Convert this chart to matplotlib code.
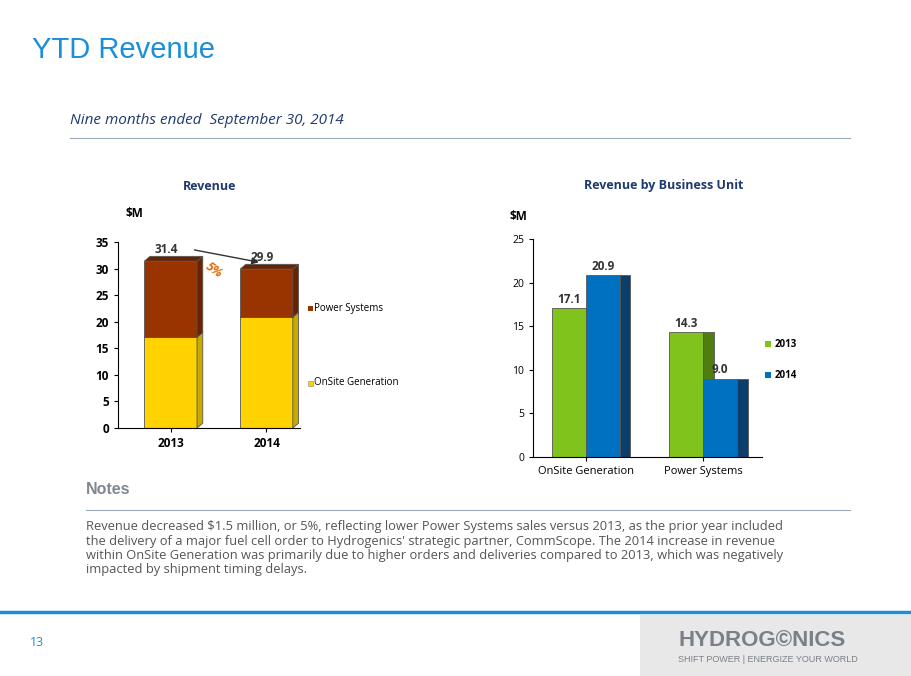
import matplotlib.pyplot as plt
from matplotlib.patches import Polygon, Rectangle
import numpy as np

years = ["2013", "2014"]
onsite = [17.1, 20.9]
power = [14.3, 9.0]
totals = [31.4, 29.9]
units = ["OnSite Generation", "Power Systems"]
bu_2013 = [17.1, 14.3]
bu_2014 = [20.9, 9.0]

W, H = 911, 676
fig = plt.figure(figsize=(W / 100, H / 100), dpi=100)
plt.rcParams['font.family'] = ['Open Sans', 'DejaVu Sans']


def px(x0, y0, x1, y1):
    return [x0 / W, 1 - y1 / H, (x1 - x0) / W, (y1 - y0) / H]


def bar3d(ax, x, bottom, h, width, face, side, dx, dy):
    ax.add_patch(Rectangle((x - width / 2, bottom), width, h, fc=face, ec="#555555", lw=0.6, clip_on=False))
    r = x + width / 2
    ax.add_patch(Polygon([(r, bottom), (r + dx, bottom + dy), (r + dx, bottom + h + dy), (r, bottom + h)],
                         closed=True, fc=side, ec="#555555", lw=0.6, clip_on=False))
    if dy:
        l = x - width / 2
        ax.add_patch(Polygon([(l, bottom + h), (l + dx, bottom + h + dy), (r + dx, bottom + h + dy), (r, bottom + h)],
                             closed=True, fc=side, ec="#555555", lw=0.6, clip_on=False))


# header
fig.text(32 / W, 1 - 50 / H, "YTD Revenue", fontsize=21, color="#1a8fd8", family="Liberation Sans", va="center")
fig.text(70 / W, 1 - 120 / H, "Nine months ended  September 30, 2014", fontsize=11, style="italic",
         color="#1f3a6e", va="center")
fig.add_artist(plt.Line2D([70 / W, 850 / W], [1 - 138 / H] * 2, color="#9aa8bb", lw=0.8))

# left chart
ax1 = fig.add_axes(px(118, 242, 300, 428))
xs = np.array([0.0, 1.0])
for i in range(2):
    bar3d(ax1, xs[i], 0, onsite[i], 0.55, "#ffd200", "#c9a800", 0.06, 0.9)
    bar3d(ax1, xs[i], onsite[i], power[i], 0.55, "#993300", "#6b2200", 0.06, 0.9)
    ax1.text(xs[i] - 0.05, totals[i] + 1.5, f"{totals[i]:.1f}", ha="center", fontsize=8.5, weight="bold",
             color="#333333")
ax1.annotate("", xy=(xs[1] - 0.05, totals[1] + 1.2), xytext=(xs[0] + 0.22, totals[0] + 2.2),
             arrowprops=dict(arrowstyle="-|>", color="#333333", lw=1))
ax1.text(0.45, 28.3, "5%", color="#e46c0a", fontsize=9, weight="bold", style="italic", rotation=-35, ha="center")
ax1.set_xlim(-0.55, 1.35)
ax1.set_ylim(0, 35)
ax1.set_yticks(range(0, 36, 5))
ax1.set_xticks(xs)
ax1.set_xticklabels(years)
for s in ["top", "right"]:
    ax1.spines[s].set_visible(False)
ax1.tick_params(labelsize=8.5, length=3)
for t in ax1.get_xticklabels() + ax1.get_yticklabels():
    t.set_fontweight("bold")
fig.text(125 / W, 1 - 214 / H, "$M", fontsize=8.5, weight="bold", va="center")
fig.text(210 / W, 1 - 186 / H, "Revenue", fontsize=9, weight="bold", color="#1f3a6e", ha="center", va="center")
fig.patches.append(Rectangle((308 / W, 1 - 311 / H), 5 / W, 5 / H, fc="#993300", transform=fig.transFigure))
fig.text(314 / W, 1 - 308 / H, "Power Systems", fontsize=7, va="center")
fig.patches.append(Rectangle((308 / W, 1 - 386 / H), 5 / W, 5 / H, fc="#ffd200", ec="#888888", lw=0.4,
                             transform=fig.transFigure))
fig.text(314 / W, 1 - 383 / H, "OnSite Generation", fontsize=7, va="center")

# right chart
ax2 = fig.add_axes(px(533, 239, 762, 457))
xg = np.array([0.0, 1.0])
bw = 0.29
for i in range(2):
    bar3d(ax2, xg[i] - bw / 2, 0, bu_2013[i], bw, "#7fc31c", "#4f7d10", 0.09, 0)
    bar3d(ax2, xg[i] + bw / 2, 0, bu_2014[i], bw, "#0070c0", "#0b3e6b", 0.09, 0)
    ax2.text(xg[i] - bw / 2, bu_2013[i] + 0.6, f"{bu_2013[i]:.1f}", ha="center", fontsize=8.5, weight="bold",
             color="#333333")
    ax2.text(xg[i] + bw / 2, bu_2014[i] + 0.6, f"{bu_2014[i]:.1f}", ha="center", fontsize=8.5, weight="bold",
             color="#333333")
ax2.set_xlim(-0.45, 1.5)
ax2.set_ylim(0, 25)
ax2.set_yticks(range(0, 26, 5))
ax2.set_xticks(xg)
ax2.set_xticklabels(units)
for s in ["top", "right"]:
    ax2.spines[s].set_visible(False)
ax2.tick_params(labelsize=7.5, length=3)
ax2.tick_params(axis="x", labelsize=8)
fig.text(510 / W, 1 - 217 / H, "$M", fontsize=8.5, weight="bold", va="center")
fig.text(664 / W, 1 - 186 / H, "Revenue by Business Unit", fontsize=9, weight="bold", color="#1f3a6e",
         ha="center", va="center")
fig.patches.append(Rectangle((765 / W, 1 - 347 / H), 6 / W, 6 / H, fc="#7fc31c", transform=fig.transFigure))
fig.text(775 / W, 1 - 344 / H, "2013", fontsize=7, weight="bold", va="center")
fig.patches.append(Rectangle((765 / W, 1 - 378 / H), 6 / W, 6 / H, fc="#0070c0", transform=fig.transFigure))
fig.text(775 / W, 1 - 375 / H, "2014", fontsize=7, weight="bold", va="center")

# notes
fig.text(86 / W, 1 - 490 / H, "Notes", fontsize=11.5, weight="bold", color="#7f8790", family="Liberation Sans",
         va="center")
fig.add_artist(plt.Line2D([86 / W, 850 / W], [1 - 510 / H] * 2, color="#9aa8bb", lw=0.8))
notes = ("Revenue decreased $1.5 million, or 5%, reflecting lower Power Systems sales versus 2013, as the prior year included\n"
         "the delivery of a major fuel cell order to Hydrogenics' strategic partner, CommScope. The 2014 increase in revenue\n"
         "within OnSite Generation was primarily due to higher orders and deliveries compared to 2013, which was negatively\n"
         "impacted by shipment timing delays.")
fig.text(86 / W, 1 - 520 / H, notes, fontsize=9.3, color="#555555", va="top", linespacing=1.15)

# footer
fig.add_artist(plt.Line2D([0, 1], [1 - 612 / H] * 2, color="#1a8fd8", lw=2.5))
fig.patches.append(Rectangle((640 / W, 0), 1 - 640 / W, 1 - 615 / H, fc="#e8e8e8", transform=fig.transFigure))
fig.text(30 / W, 1 - 643 / H, "13", fontsize=9, color="#1a8fd8", va="center")
fig.text(678 / W, 1 - 640 / H, "HYDROG\u00a9NICS", fontsize=16, weight="bold", color="#7a8089",
         family="Liberation Sans", va="center")
fig.text(678 / W, 1 - 660 / H, "SHIFT POWER | ENERGIZE YOUR WORLD", fontsize=6.5, color="#7a8089",
         family="Liberation Sans", va="center")

fig.savefig("out.png", dpi=100)
